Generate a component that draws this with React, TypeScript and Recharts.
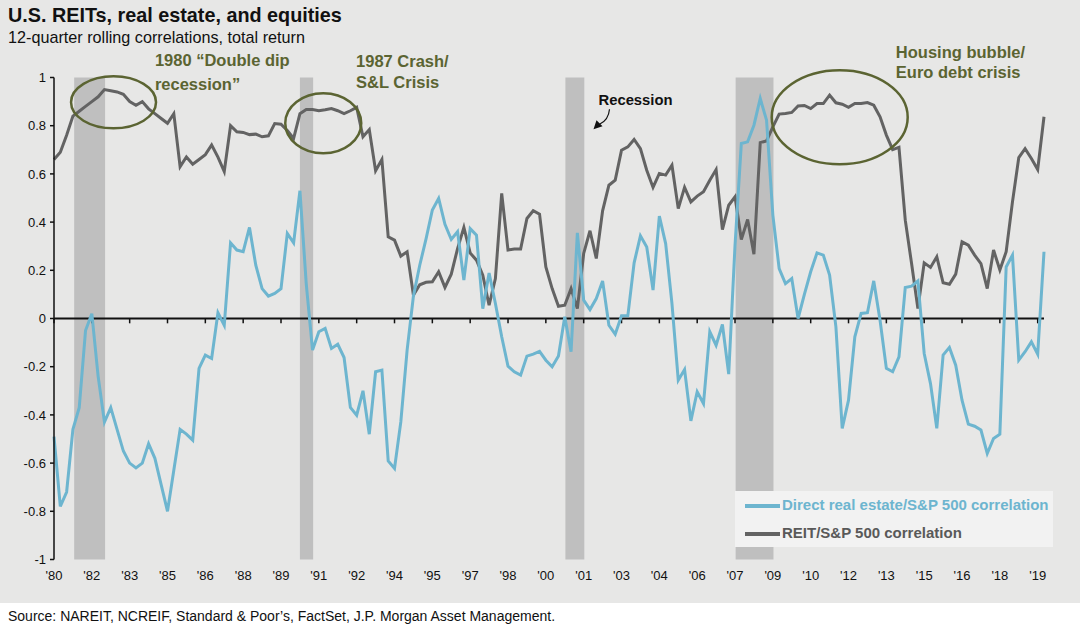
import { LineChart, Line, XAxis, YAxis, ReferenceArea, ReferenceLine, ReferenceDot } from 'recharts';

// quarterly points, 1980 Q1 onward
const tickLabels = ["'80", "'82", "'83", "'85", "'86", "'88", "'89", "'91", "'92", "'94", "'95", "'97", "'98", "'00",
  "'01", "'03", "'04", "'06", "'07", "'09", "'10", "'12", "'13", "'15", "'16", "'18", "'19"];

const reitSp = [
  0.66, 0.69, 0.76, 0.84, 0.86, 0.88, 0.90, 0.92, 0.95, 0.945, 0.94, 0.93, 0.90, 0.885, 0.90, 0.87, 0.85, 0.83, 0.81, 0.85,
  0.63, 0.67, 0.64, 0.66, 0.68, 0.72, 0.67, 0.61, 0.80, 0.775, 0.772, 0.763, 0.765, 0.754, 0.758, 0.809, 0.806, 0.78, 0.747, 0.85,
  0.867, 0.867, 0.862, 0.866, 0.871, 0.862, 0.85, 0.862, 0.876, 0.754, 0.784, 0.613, 0.66, 0.339, 0.325, 0.259, 0.277, 0.097, 0.14, 0.15,
  0.152, 0.194, 0.129, 0.184, 0.29, 0.378, 0.272, 0.242, 0.18, 0.055, 0.166, 0.519, 0.284, 0.288, 0.288, 0.415, 0.447, 0.433, 0.214, 0.124,
  0.051, 0.055, 0.124, 0.041, 0.27, 0.364, 0.249, 0.447, 0.553, 0.574, 0.698, 0.712, 0.743, 0.705, 0.615, 0.544, 0.602, 0.595, 0.636, 0.456,
  0.544, 0.484, 0.508, 0.526, 0.574, 0.618, 0.369, 0.47, 0.505, 0.328, 0.411, 0.267, 0.73, 0.737, 0.795, 0.848, 0.851, 0.855, 0.882, 0.884,
  0.871, 0.892, 0.892, 0.927, 0.895, 0.889, 0.876, 0.892, 0.892, 0.896, 0.885, 0.837, 0.761, 0.701, 0.71, 0.408, 0.228, 0.041, 0.231, 0.212,
  0.256, 0.148, 0.142, 0.184, 0.318, 0.304, 0.263, 0.228, 0.124, 0.284, 0.201, 0.277, 0.484, 0.668, 0.705, 0.664, 0.618, 0.837,
];

const directSp = [
  -0.49, -0.78, -0.72, -0.46, -0.37, -0.05, 0.02, -0.24, -0.43, -0.37, -0.46, -0.55, -0.60, -0.62, -0.60, -0.52, -0.58, -0.69, -0.80, -0.63,
  -0.46, -0.48, -0.505, -0.207, -0.152, -0.166, 0.024, -0.028, 0.314, 0.284, 0.277, 0.378, 0.221, 0.124, 0.093, 0.104, 0.124, 0.353, 0.314, 0.53,
  0.145, -0.131, -0.055, -0.041, -0.124, -0.107, -0.162, -0.369, -0.401, -0.30, -0.48, -0.221, -0.214, -0.591, -0.622, -0.429, -0.131, 0.093, 0.221, 0.33,
  0.45, 0.498, 0.391, 0.328, 0.36, 0.159, 0.373, 0.346, 0.041, 0.189, 0.062, -0.076, -0.198, -0.221, -0.235, -0.156, -0.148, -0.136, -0.173, -0.2,
  -0.156, 0.007, -0.138, 0.355, 0.076, 0.037, 0.083, 0.156, -0.028, -0.065, 0.011, 0.011, 0.231, 0.343, 0.297, 0.118, 0.425, 0.311, 0.062, -0.256,
  -0.212, -0.425, -0.304, -0.353, -0.055, -0.111, -0.025, -0.231, 0.304, 0.726, 0.733, 0.802, 0.913, 0.823, 0.429, 0.207, 0.145, 0.166, 0.0, 0.10,
  0.194, 0.272, 0.263, 0.18, -0.035, -0.456, -0.339, -0.076, 0.021, 0.024, 0.156, -0.007, -0.207, -0.221, -0.159, 0.129, 0.134, 0.156, -0.145, -0.27,
  -0.456, -0.152, -0.12, -0.194, -0.339, -0.438, -0.447, -0.463, -0.56, -0.498, -0.48, 0.214, 0.263, -0.173, -0.138, -0.097, -0.148, 0.277,
];

// recession bands in quarter index
const recessions = [
  [3.2, 8.1],
  [39.0, 41.1],
  [81.1, 84.1],
  [108.1, 114.1],
];

const yTicks = [1, 0.8, 0.6, 0.4, 0.2, 0, -0.2, -0.4, -0.6, -0.8, -1];

const data = reitSp.map((v, i) => ({ q: i, reit: v, direct: directSp[i] }));
const xTicks = tickLabels.map((_, i) => i * 6);

const FONT = '"Liberation Sans", Arial, sans-serif';
const BLUE = '#6db5cf';
const GRAY = '#636363';
const OLIVE = '#5b6432';

const ellipse = (rx: number, ry: number) => (p: any) => (
  <ellipse cx={p.cx} cy={p.cy} rx={rx} ry={ry} fill="none" stroke={OLIVE} strokeWidth={2.5} />
);

const note = (lines: string[], gap: number, color = OLIVE, size = 16.5) => (p: any) => (
  <text x={p.cx} y={p.cy} fill={color} fontSize={size} fontWeight="bold" fontFamily={FONT}>
    {lines.map((l, i) => (
      <tspan key={i} x={p.cx} dy={i === 0 ? 0 : gap}>{l}</tspan>
    ))}
  </text>
);

const recessionNote = (p: any) => (
  <g>
    <text x={p.cx} y={p.cy} fill="#111" fontSize={14.8} fontWeight="bold" fontFamily={FONT}>Recession</text>
    <path d={`M${p.cx + 11},${p.cy + 4} Q${p.cx + 10},${p.cy + 15} ${p.cx + 1},${p.cy + 19}`} fill="none" stroke="#111" strokeWidth={1.2} />
    <polygon points={`${p.cx - 5},${p.cy + 24} ${p.cx - 2},${p.cy + 15} ${p.cx + 4},${p.cy + 21}`} fill="#111" />
  </g>
);

export default function App() {
  return (
    <div style={{ position: 'absolute', left: 0, top: 0, width: 1080, height: 631, background: '#fff', fontFamily: FONT }}>
      <div style={{ position: 'absolute', left: 0, top: 0, width: 1080, height: 603, background: '#e7e7e6' }} />
      <div style={{ position: 'absolute', left: 8, top: 4, fontSize: 19.8, fontWeight: 'bold', color: '#111', whiteSpace: 'nowrap' }}>
        U.S. REITs, real estate, and equities
      </div>
      <div style={{ position: 'absolute', left: 8, top: 28, fontSize: 16.2, color: '#111', whiteSpace: 'nowrap' }}>
        12-quarter rolling correlations, total return
      </div>
      <div style={{ position: 'absolute', left: 0, top: 0 }}>
        <LineChart width={1080} height={603} data={data} margin={{ top: 77.5, right: 36, bottom: 13.5, left: 24 }}>
          {recessions.map(([a, b], i) => (
            <ReferenceArea key={i} x1={a} x2={b} y1={-1} y2={1} fill="#bfbfbf" fillOpacity={1} stroke="none" />
          ))}
          <XAxis
            dataKey="q"
            type="number"
            domain={[0, 157]}
            ticks={xTicks}
            interval={0}
            tickFormatter={(v: number) => tickLabels[Math.round(v / 6)]}
            axisLine={false}
            tickLine={false}
            height={30}
            tickMargin={5}
            tick={{ fontSize: 13, fill: '#111', fontFamily: FONT }}
          />
          <YAxis
            type="number"
            domain={[-1, 1]}
            ticks={yTicks}
            interval={0}
            width={30}
            tickSize={4}
            tickMargin={4}
            tickFormatter={(v: number) => String(Number(v.toFixed(1)))}
            axisLine={{ stroke: '#111', strokeWidth: 1.5 }}
            tickLine={{ stroke: '#111', strokeWidth: 1.5 }}
            tick={{ fontSize: 13, fill: '#111', fontFamily: FONT }}
          />
          <ReferenceLine y={0} stroke="#111" strokeWidth={1.8} />
          {xTicks.map((t) => (
            <ReferenceLine key={t} segment={[{ x: t, y: 0 }, { x: t, y: -0.02 }]} stroke="#111" strokeWidth={1.5} />
          ))}
          <Line dataKey="reit" stroke={GRAY} strokeWidth={3} dot={false} isAnimationActive={false} />
          <Line dataKey="direct" stroke={BLUE} strokeWidth={3} dot={false} isAnimationActive={false} />
          <ReferenceDot x={9.44} y={0.897} ifOverflow="visible" shape={ellipse(42.5, 26)} />
          <ReferenceDot x={42.7} y={0.81} ifOverflow="visible" shape={ellipse(38, 30)} />
          <ReferenceDot x={124.6} y={0.835} ifOverflow="visible" shape={ellipse(68, 47)} />
          <ReferenceDot x={16.0} y={1.049} ifOverflow="visible" shape={note(['1980 \u201cDouble dip', 'recession\u201d'], 24)} />
          <ReferenceDot x={47.9} y={1.045} ifOverflow="visible" shape={note(['1987 Crash/', 'S&L Crisis'], 21)} />
          <ReferenceDot x={133.5} y={1.082} ifOverflow="visible" shape={note(['Housing bubble/', 'Euro debt crisis'], 20)} />
          <ReferenceDot x={86.35} y={0.885} ifOverflow="visible" shape={recessionNote} />
        </LineChart>
      </div>
      <div style={{ position: 'absolute', left: 735, top: 491, width: 318, height: 56, background: '#f2f2f2' }}>
        <div style={{ position: 'absolute', left: 10, top: 13, width: 35, height: 3.5, background: BLUE }} />
        <div style={{ position: 'absolute', left: 47, top: 5, fontSize: 15, fontWeight: 'bold', color: BLUE, whiteSpace: 'nowrap' }}>
          Direct real estate/S&amp;P 500 correlation
        </div>
        <div style={{ position: 'absolute', left: 10, top: 41, width: 35, height: 3.5, background: GRAY }} />
        <div style={{ position: 'absolute', left: 47, top: 33, fontSize: 15, fontWeight: 'bold', color: '#595959', whiteSpace: 'nowrap' }}>
          REIT/S&amp;P 500 correlation
        </div>
      </div>
      <div style={{ position: 'absolute', left: 8, top: 608, fontSize: 14, color: '#111', whiteSpace: 'nowrap' }}>
        Source: NAREIT, NCREIF, Standard &amp; Poor&#8217;s, FactSet, J.P. Morgan Asset Management.
      </div>
    </div>
  );
}
